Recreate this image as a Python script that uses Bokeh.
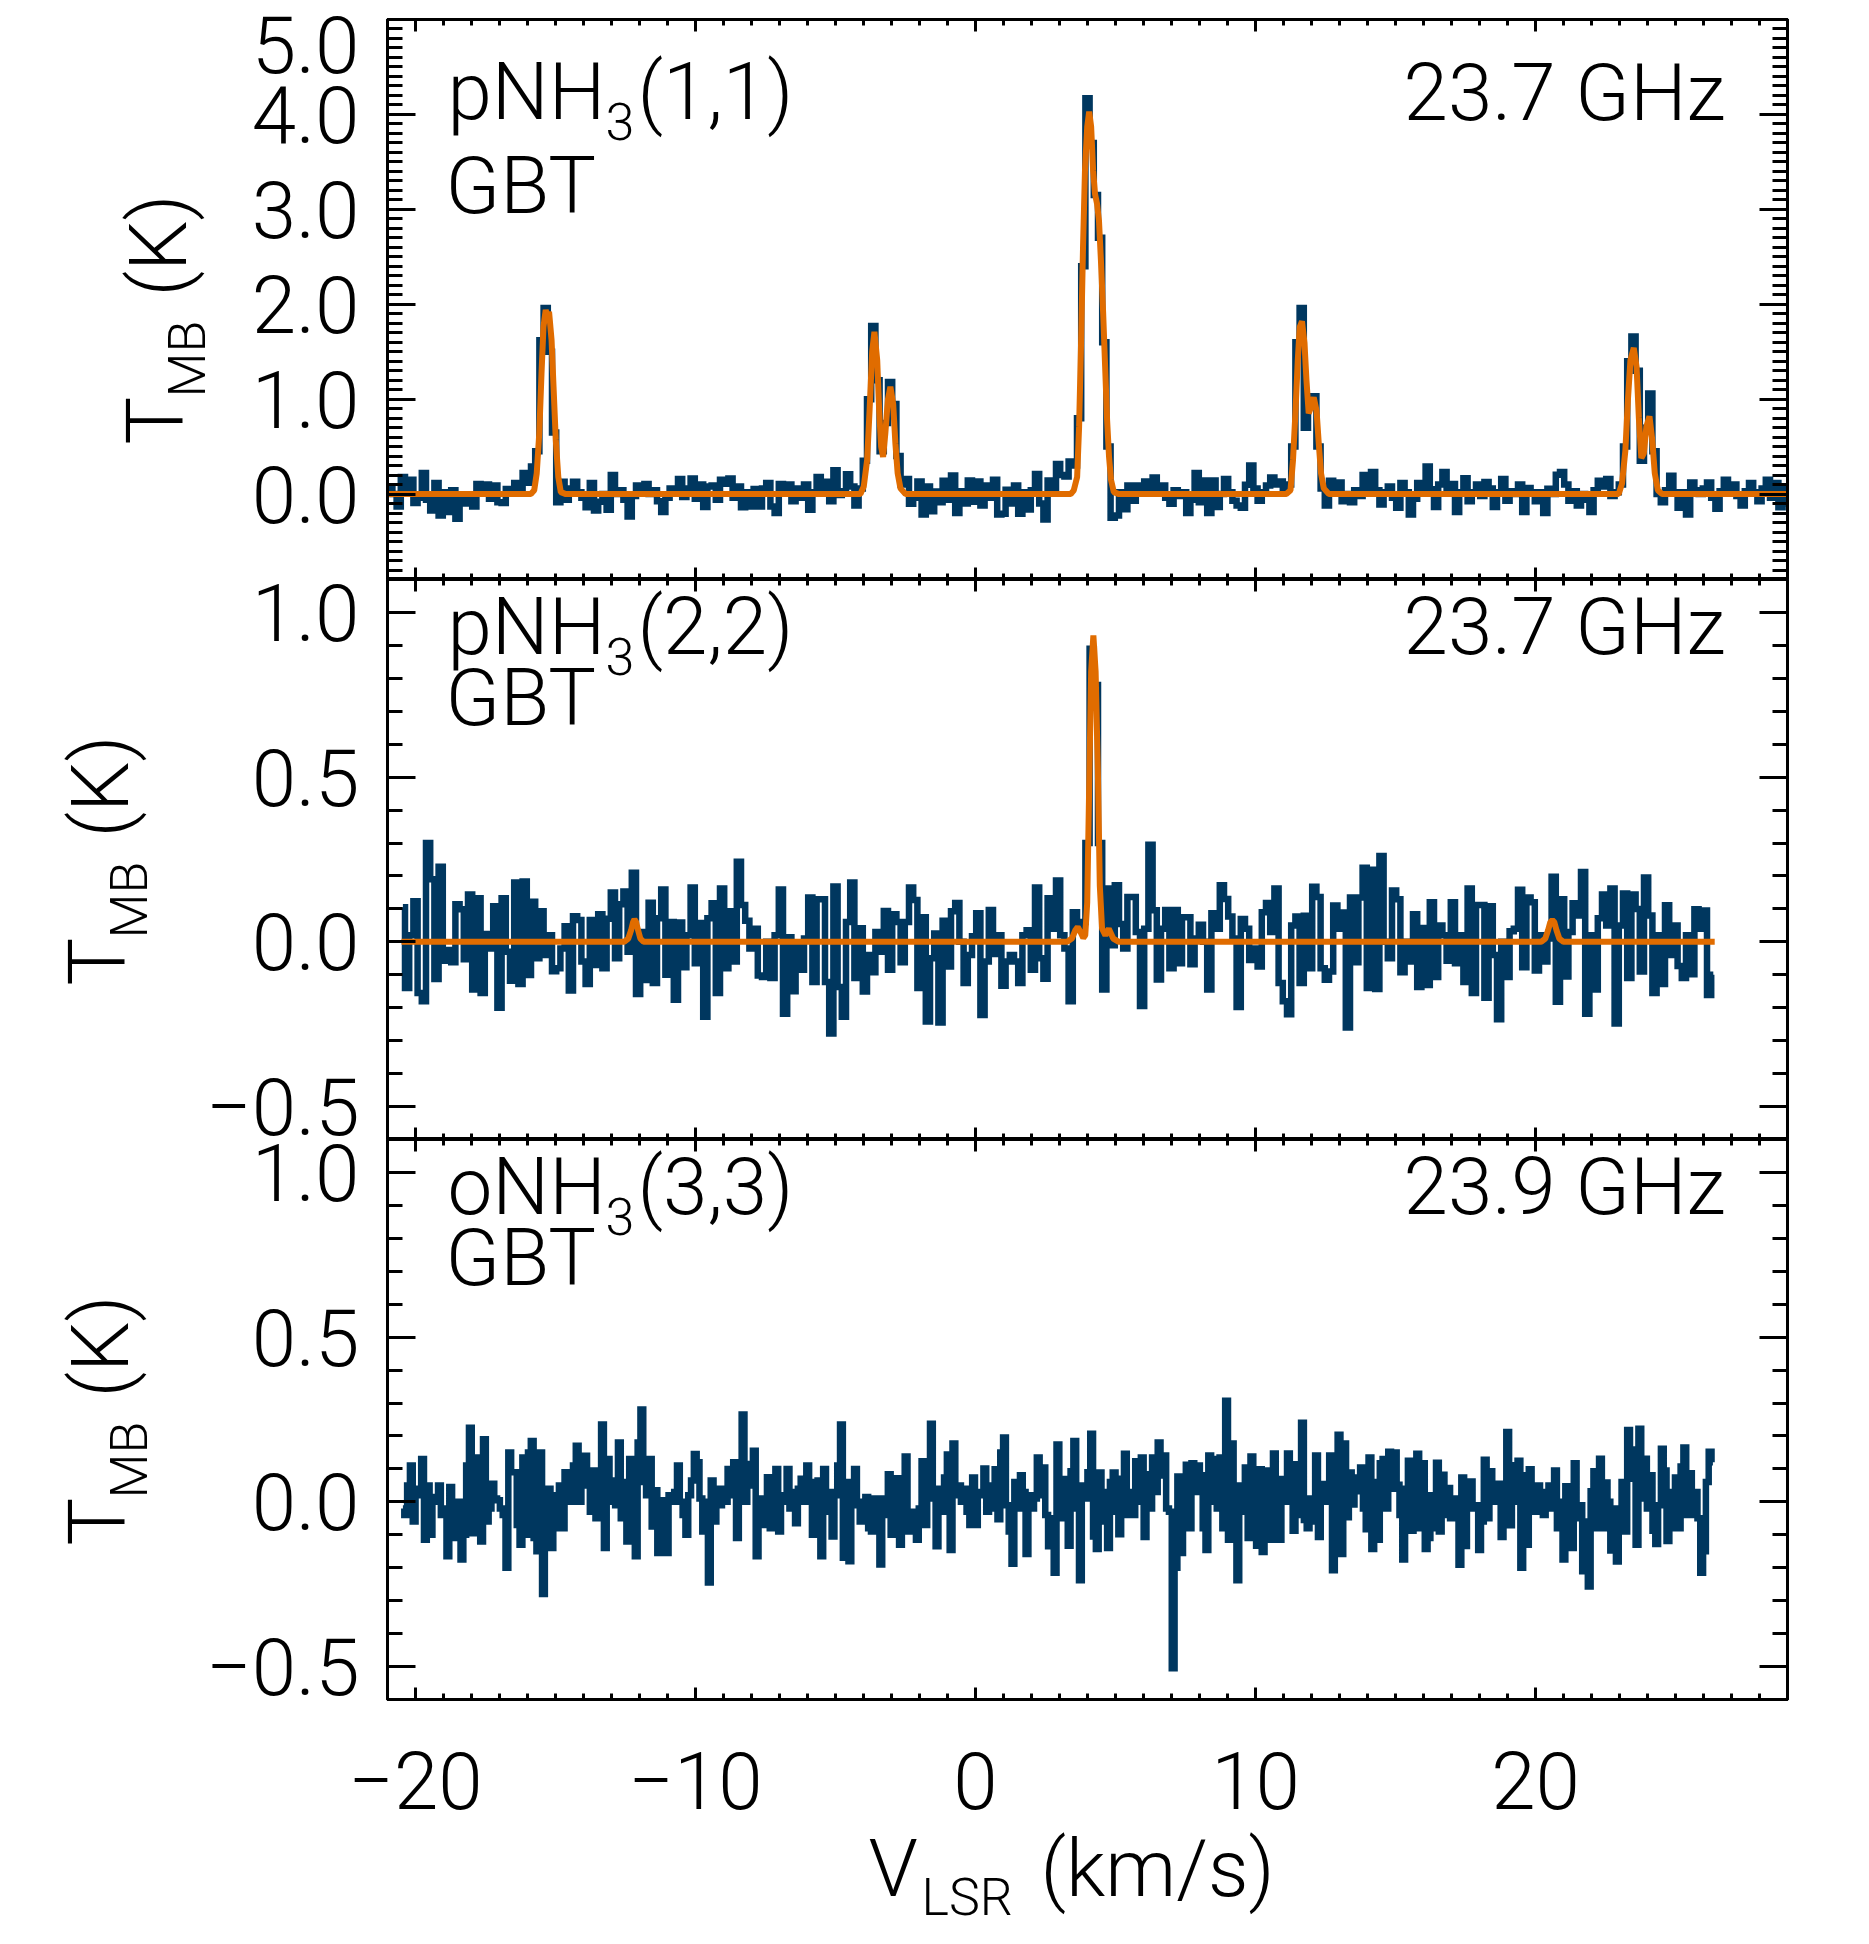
import numpy as np
from bokeh.plotting import figure
from bokeh.models import Range1d, LinearAxis, FixedTicker, Label, PrintfTickFormatter
from bokeh.layouts import column, row
from bokeh.embed import file_html
from bokeh.resources import INLINE

# ---------------- data ----------------
X_TICKS = [-20, -10, 0, 10, 20]
X_TICK_LABELS = {-20: "\u221220", -10: "\u221210"}
X_MINOR = list(range(-21, 30))

# panel 1: pNH3(1,1)  (channel values in mK)
V1_START, V1_STEP = -21.05, 0.15
T1_MK = [
    50, 50, 0, -130, 179, 40, 151, -95, -40, 221,
    -60, -172, 116, -225, 20, -190, 40, -260, -50, -100,
    -45, -130, 105, 60, 100, -50, 90, -85, -95, 53,
    20, 116, 30, 221, 120, 290, 450, 1620, 1960, 1500,
    650, -85, 130, -60, 60, 130, 20, -40, -140, 116,
    -172, -80, 0, -165, 200, 0, 40, -60, -235, -20,
    90, 40, 105, 0, 40, -75, -190, -40, 60, 20,
    158, -30, 60, 165, -50, 100, -137, 80, 90, -60,
    150, 110, 165, -40, 80, -140, 20, -130, 53, -130,
    60, 116, -130, -200, 105, 30, 100, -75, 60, -40,
    100, -165, 20, 180, 60, 130, -75, 250, -10, 30,
    210, 80, -120, 60,
    350, 1000, 1770, 1200, 450, 750, 1180, 950, 400, 100,
    158, -102, -40, 133, -214, 80, -182, 28, -85, 140,
    -60, 197, -200, 30, -100, 144, -80, 133, -120, 90,
    -40, 151, -214, -207, 45, -100, 90, -207, 20, -162,
    40, 211, -100, -267, 144, 60, 316, 200, 186, 344,
    300, 800, 2400, 4170, 3700, 3150, 2700, 1600, 500, -250,
    -225, 20, -160, 90, -70, 90, 20, 133, 50, 175,
    40, 90, -40, -102, 40, -20, 20, -200, -60, 221,
    -85, 144, -200, 144, -137, 0, 158, 20, -70, -120,
    -144, 98, 302, 60, -70, 20, 90, 175, 100, 133,
    60, 100, 500, 1600, 1960, 700, 950, 1030, 500, 60,
    -120, 140, 40,
    123, -75, 0, -85, 40, -20, 200, 60, 232, 40,
    -110, 20, 80, -40, -145, 116, 20, -214, -50, 116,
    40, 291, 50, -137, 100, 232, 50, 105, -190, 20,
    168, -75, 20, 100, -20, 126, 60, -137, 20, 158,
    -70, 30, 0, 100, -190, 63, 20, -75, 20, -200,
    56, 0, 204, 232, 100, -70, 30, -120, 0, -60,
    -190, 40, 140, 80, 158, -20, 20, 100, 500, 1400,
    1660, 1300, 350, 700, 1060, 450, 0, -85, 40, 193,
    20, -145, 20, -214, 123, 40, 0, 60, 123, -40,
    -155, 30, 150, 50, 100, -20, -120, 30, 116, 20,
    -75, 60, 150, -40, 116, -140, 60, -100,
]
FIT1_V = [-21.0, -15.88, -15.76, -15.67, -15.58, -15.50, -15.43, -15.35, -15.29, -15.23,
          -15.14, -15.07, -14.99, -14.90, -14.81, -14.63,
          -4.25, -4.11, -3.99, -3.87, -3.78, -3.69, -3.61, -3.51, -3.44, -3.37,
          -3.30, -3.22, -3.13, -3.04, -2.94, -2.86, -2.78, -2.68, -2.50,
          3.40, 3.51, 3.63, 3.70, 3.77, 3.84, 3.91, 3.99, 4.06, 4.13, 4.20, 4.27,
          4.34, 4.41, 4.48, 4.56, 4.63, 4.70, 4.77, 4.84, 4.94, 5.12,
          11.10, 11.25, 11.34, 11.43, 11.51, 11.58, 11.66, 11.75, 11.82, 11.90,
          11.99, 12.08, 12.18, 12.26, 12.34, 12.44, 12.62,
          22.85, 22.97, 23.09, 23.21, 23.30, 23.39, 23.51, 23.61, 23.69, 23.78,
          23.87, 23.96, 24.07, 24.17, 24.26, 24.37, 24.52, 29.0]
FIT1_T = [0, 0, 0.04, 0.22, 0.64, 1.27, 1.76, 1.94, 1.87, 1.92,
          1.62, 1.13, 0.57, 0.18, 0.02, 0,
          0, 0.0, 0.08, 0.36, 0.90, 1.50, 1.71, 1.41, 0.88, 0.50,
          0.39, 0.64, 0.99, 1.13, 0.95, 0.53, 0.22, 0.06, 0,
          0, 0.04, 0.18, 0.71, 1.59, 2.60, 3.41, 3.87, 4.03, 3.87, 3.41, 3.16,
          3.06, 2.88, 2.46, 1.90, 1.34, 0.78, 0.39, 0.15, 0.02, 0,
          0, 0.04, 0.36, 0.88, 1.41, 1.76, 1.82, 1.59, 1.20, 0.85,
          0.92, 1.02, 0.88, 0.53, 0.22, 0.06, 0,
          0, 0, 0.11, 0.46, 0.99, 1.41, 1.54, 1.34, 0.81, 0.38,
          0.43, 0.71, 0.82, 0.57, 0.22, 0.04, 0, 0]
Y1_TICKS = [0, 1, 2, 3, 4, 5]
Y1_LABEL_POS = [0, 1, 2, 3, 4, 4.74]          # top label sits below its tick
Y1_TICK_LABELS = {4.74: "5.0"}
Y1_MINOR = [round(-0.9 + 0.1 * k, 1) for k in range(60)]

# panel 2: pNH3(2,2)
V2_START, V2_STEP = -20.45, 0.15
T2_MK = [
    105, -140, 20, 123, -155, -180, 300, 190, -113, 228,
    -57, -25, -62, 114, 99, -53, 144, -145, 132, -155,
    24, -20, 108, -200, 132, -30, -118, 180, -128, 183,
    -101, 122, -50, 93, -40, 20, -89, -80, -20, 47,
    -148, 78, 66, -60, -128, 66, -70, 84, -80, 70,
    150, -50, 114, 153, -30, 210, -158, 30, -116, 119,
    -125, 72, 159, -100, 60, -176, 59, -77, 20, 165,
    -65, 57, -227, 72, 117, -155, 162, -80, 93, -60,
    243, 112, 64, -20, 40, -102, -107, 0, -110, 20,
    159, -218, 14, -150, -10, -85, 10, 135, -122, 129,
    129, -122, -278, 168, -137, -227, 60, 180, -110, 41,
    -151, -40,
    -92, 30, -30, 94, -85, 84, 60, -62, 60, 165,
    127, -140, 75, -242, -50, 25, -245, 64, -75, 93,
    118, 0, -125, -40, 17, 87, -222, -60, 97, -37,
    20, -133, -60, -40, -60, -125, 20, 35, -85, 165,
    -50, -112, 132, 40, 186, 20, -20, -180, 90, 40,
    60, 300, 890, 780, 300, -145, 162, -10, 172, 54,
    -20, 136, 136, 30, -195, 40, 295, 96, -114, 40,
    97, -80, 97, -65, 75, 75, -68, 10, 52, 0,
    -145, 87, 40, 172, 130, 77, 10, -198, 69, 40,
    -55, -20, -75, 90, 118, 30, 162, -125, -180, -220,
    50, 77, -125, 79, -80, 167, 136, -80, -115, -90,
    110, 40,
    89, -260, 135, -62, 135, 225, -140, 219, -143, 261,
    0, -50, 156, 129, -92, 0, -60, 84, -137, 42,
    -131, 120, -107, 50, 20, -57, 120, -65, 20, -122,
    162, -155, 112, 112, -170, 108, -40, -235, 0, -107,
    32, 40, 158, -77, 135, 120, -87, 20, -60, 10,
    198, -182, 129, -105, 30, 117, 80, 212, -218, 20,
    -145, 72, 144, 50, 162, -248, 50, 147, -110, 144,
    100, -90, 195, 80, -155, 20, -128, 111, -40, 50,
    -73, -110, 20, -98, 99, 40, 95, -161, -100,
]
FIT2_V = [-20.50, -12.55, -12.40, -12.30, -12.23, -12.18, -12.12, -12.05, -11.97, -11.85,
          3.27, 3.45, 3.57, 3.65, 3.75, 3.85, 3.92, 3.99, 4.06, 4.13,
          4.21, 4.29, 4.37, 4.44, 4.52, 4.64, 4.76, 4.92, 5.12,
          20.20, 20.35, 20.45, 20.53, 20.60, 20.67, 20.75, 20.85, 21.00, 26.40]
FIT2_T = [0, 0, 0.01, 0.035, 0.06, 0.068, 0.06, 0.035, 0.01, 0,
          0, 0.011, 0.036, 0.045, 0.03, 0.012, 0.02, 0.12, 0.47, 0.82,
          0.93, 0.82, 0.52, 0.17, 0.04, 0.02, 0.04, 0.01, 0,
          0, 0.01, 0.035, 0.06, 0.066, 0.06, 0.035, 0.01, 0, 0]

# panel 3: oNH3(3,3)
V3_START, V3_STEP = -20.45, 0.1004
T3_MK = [
    -20, -40, 50, 110, -60, 40, 20, 130, -115, 50,
    -100, 15, 0, 50, -40, -20, -165, 45, -70, -110,
    0, -175, -100, 110, 225, -95, 135, 30, -120, 190,
    -60, -20, 55, 10, 5, -20, -40, -200, 150, 90,
    90, -70, -130, 135, -100, 150, 185, -110, -150, 150,
    -280, -40, 40, -140, 20, -80, 50, -80, 90, 30,
    0, 110, 170, 0, 100, 140, 50, -30, 95, -50,
    30, 235, -140, 130, 0, 65, -10, 180, -50, 60,
    -120, 130, -60, -165, 180, 280, 60, 20, 130, -75,
    35, -155, 5, -80, -155, 20, 0, 30, 110, 0,
    -40, -100, 20, 65, 145, 120, 10, -90, 0, -245,
    65, -60, 40, -10, 40, 0, 100, 20, 120, -110,
    60, 265, 0, 115, 50, 155, -165, 10, -70, 0,
    75, -80, 20, 100, -90, 0, 20, 100, -20, 30,
    -65, 40, 70, 0, 110, 20, -100, 60, 65, -165,
    100, -30, 30, -105, 20, 110, 235, -170, 60, -180,
    20, 100, -10, -60, 0, 15, -80,
    -90, 10, -40, -190, 10, -40, 84, -100, 10, 72,
    -130, 40, 138, -90, -30, -45, -115, -20, 123, -70,
    110, 237, 10, -135, 40, -30, 74, 144, -146, 177,
    20, 50, 0, 40, -30, -70, 74, -70, 20, 30,
    101, -30, 50, -20, 99, -53, 150, 195, -10, -90,
    -188, 60, -20, 81, 30, -158, 20, -20, 10, 135,
    20, 104, -40, -135, -50, -215, 174, -50, 69, 30,
    -133, 93, 185, -20, -238, 50, 10, 90, 207, -105,
    -143, 89, 30, -60, -140, 60, 89, -30, -98, 70,
    146, -40, 30, -40, 123, 0, 135, -107, 84, -20,
    135, 30, 180, 80, 141, -20, -30, -505, -200, 77,
    -155, 40, 113, -80, 117, 30, 110, 81, -80, -146,
    141, 0, 130, -20, 135, -80, 307, -115, 177, 40,
    -238, 50, -30, 104, -110, 138, 10, -133, 99, -152,
    95, 20, -115, 147, 40, -115, 69, 0, 147, 100,
    -88, 114, -40, 240, -55, -80, 10, -60, 141, -107,
    54, 0, 30, 141, -208, 100, 204,
    -158, 177, -47, 89, -8, 74, 32, 104, -20, -83,
    135, -143, 60, -115, 117, 130, -20, 152, 40, 150,
    52, -40, -175, 40, 125, -88, 60, 146, -80, 117,
    -143, -110, 20, -80, 119, -90, 82, -40, 42, -50,
    10, -30, -191, 74, -134, -20, 62, -20, -10, -146,
    -60, 128, -50, 93, 0, 40, 55, -107, 40, 212,
    -71, 111, 0, 125, -200, 81, -130, 99, 30, -30,
    50, 20, -40, 30, 50, -20, 95, -80, 0, -175,
    47, -60, -140, 117, -50, -10, -211, -60, -257, 32,
    93, -80, 131, -80, 59, 0, -148, -20, -181, -70,
    60, -90, 218, 70, 159, -130, 222, 10, 131, -20,
    81, -88, -128, -10, 161, 95, -119, 30, -80, 74,
    -80, 107, 165, -40, 87, -40, 30, -50, -215, -150,
    60, 152, 120,
]
Y23_TICKS = [-0.5, 0.0, 0.5, 1.0]
Y23_TICK_LABELS = {-0.5: "\u22120.5"}
Y23_MINOR = [round(-0.6 + 0.1 * k, 1) for k in range(18)]

# ---------------- style / layout ----------------
NAVY = "#00375f"
ORANGE = "#e06c00"
FONT = "Roboto Light"
FS = "80px"
FS_SUB = "52px"
X_MIN, X_MAX = -21.0, 29.0
FRAME_W, FRAME_H = 1400, 560
FRAME_LEFT = 387
RIGHT_BORDER = 60
TOTAL_W = FRAME_LEFT + FRAME_W + RIGHT_BORDER
TOPS = [19, 579, 1139]
P3_BOTTOM = 120
PAGE_H = 1940
STRIP_W = [215, 175, 175]


def xd(px):
    return X_MIN + (px - FRAME_LEFT) * (X_MAX - X_MIN) / FRAME_W


def yd(py, top, ymin, ymax):
    return ymax - (py - top) * (ymax - ymin) / FRAME_H


def style_axis(ax, tin, tmin, ticks=None):
    ax.major_tick_in = tin
    ax.major_tick_out = 0
    ax.minor_tick_in = tmin
    ax.minor_tick_out = 0
    ax.major_tick_line_width = 3
    ax.minor_tick_line_width = 3
    ax.major_tick_line_color = "black"
    ax.minor_tick_line_color = "black"
    ax.axis_line_color = "black"
    ax.axis_line_width = 3
    ax.major_label_text_font = FONT
    ax.major_label_text_color = "black"
    ax.major_label_text_font_size = FS
    if ticks is not None:          # unlabeled axis
        ax.major_label_overrides = {t: "" for t in ticks}
        ax.major_label_text_font_size = "0px"
        ax.major_label_standoff = 0


def make_panel(ymin, ymax, yticks, yminor, ylabpos, yover, btop, bbottom, bleft, xlabels):
    p = figure(frame_width=FRAME_W, frame_height=FRAME_H,
               x_range=Range1d(X_MIN, X_MAX), y_range=Range1d(ymin, ymax),
               x_axis_type=None, y_axis_type=None,
               output_backend="svg", toolbar_location=None,
               min_border_left=bleft, min_border_right=RIGHT_BORDER,
               min_border_top=btop, min_border_bottom=bbottom,
               outline_line_color="black", outline_line_width=3,
               background_fill_color="white", border_fill_color="white")
    xt = FixedTicker(ticks=X_TICKS, minor_ticks=X_MINOR)
    yt = FixedTicker(ticks=yticks, minor_ticks=yminor)
    ax = LinearAxis(ticker=xt)
    if xlabels:
        style_axis(ax, 12, 6)
        ax.major_label_overrides = X_TICK_LABELS
        ax.major_label_standoff = 52
    else:
        style_axis(ax, 12, 6, X_TICKS)
    p.add_layout(ax, "below")
    ax = LinearAxis(ticker=xt)
    style_axis(ax, 12, 6, X_TICKS)
    p.add_layout(ax, "above")
    ax = LinearAxis(ticker=yt)
    style_axis(ax, 28, 15, yticks)
    p.add_layout(ax, "left")
    ax = LinearAxis(ticker=FixedTicker(ticks=ylabpos, minor_ticks=[]),
                    formatter=PrintfTickFormatter(format="%.1f"))
    style_axis(ax, 0, 0)
    ax.major_tick_line_color = None
    ax.minor_tick_line_color = None
    ax.axis_line_color = None
    ax.major_label_overrides = yover
    ax.major_label_standoff = 28
    p.add_layout(ax, "left")
    ax = LinearAxis(ticker=yt)
    style_axis(ax, 28, 15, yticks)
    p.add_layout(ax, "right")
    return p


def strip(x0, x1, y0, y1):
    return figure(frame_width=int(x1 - x0), frame_height=int(y1 - y0),
                  x_range=Range1d(x0, x1), y_range=Range1d(y1, y0),
                  x_axis_type=None, y_axis_type=None,
                  output_backend="svg", toolbar_location=None,
                  min_border=0, outline_line_color=None,
                  background_fill_color="white", border_fill_color="white")


def add_text(p, x, y, text, size=FS, align="left", angle=0.0):
    p.add_layout(Label(x=x, y=y, text=text, text_font=FONT, text_font_size=size,
                       text_color="black", text_align=align,
                       text_baseline="alphabetic", angle=angle))


def add_ylabel(s, top, tx, c_off=0):
    c = top + FRAME_H / 2 + c_off
    add_text(s, tx, c + 126, "T", angle=np.pi / 2)
    add_text(s, tx + 32, c + 79, "MB", size=FS_SUB, angle=np.pi / 2)
    add_text(s, tx + 3, c - 22, "(K)", angle=np.pi / 2)


def add_species(p, top, ymin, ymax, main, qn, freq, off, goff, foff):
    add_text(p, xd(447), yd(top + off, top, ymin, ymax), main)
    add_text(p, xd(605), yd(top + off + 30, top, ymin, ymax), "3", size=FS_SUB)
    add_text(p, xd(637), yd(top + off, top, ymin, ymax), qn)
    add_text(p, xd(445), yd(top + goff, top, ymin, ymax), "GBT")
    add_text(p, xd(1725), yd(top + foff, top, ymin, ymax), freq, align="right")


def chan(start, step, n):
    return start + step * np.arange(n)


# ---- panel 1
y1min, y1max = -0.9, 5.0
p1 = make_panel(y1min, y1max, Y1_TICKS, Y1_MINOR, Y1_LABEL_POS, Y1_TICK_LABELS,
                TOPS[0], 0, FRAME_LEFT - STRIP_W[0], False)
p1.step(chan(V1_START, V1_STEP, len(T1_MK)), np.array(T1_MK) / 1000.0, mode="center",
        line_color=NAVY, line_width=6.5, line_join="miter")
p1.line(FIT1_V, FIT1_T, line_color=ORANGE, line_width=6)
add_species(p1, TOPS[0], y1min, y1max, "pNH", "(1,1)", "23.7 GHz", 72, 166, 73)
s1 = strip(0, STRIP_W[0], 0, TOPS[1])
add_ylabel(s1, TOPS[0], 155)

# ---- panel 2
y2min, y2max = -0.6, 1.1
p2 = make_panel(y2min, y2max, Y23_TICKS, Y23_MINOR, Y23_TICKS, Y23_TICK_LABELS,
                0, 0, FRAME_LEFT - STRIP_W[1], False)
p2.step(chan(V2_START, V2_STEP, len(T2_MK)), np.array(T2_MK) / 1000.0, mode="center",
        line_color=NAVY, line_width=6.5, line_join="miter")
p2.line(FIT2_V, FIT2_T, line_color=ORANGE, line_width=6)
add_species(p2, TOPS[1], y2min, y2max, "pNH", "(2,2)", "23.7 GHz", 47, 118, 47)
s2 = strip(0, STRIP_W[1], TOPS[1], TOPS[2])
add_ylabel(s2, TOPS[1], 97)

# ---- panel 3
p3 = make_panel(y2min, y2max, Y23_TICKS, Y23_MINOR, Y23_TICKS, Y23_TICK_LABELS,
                0, P3_BOTTOM, FRAME_LEFT - STRIP_W[2], True)
p3.step(chan(V3_START, V3_STEP, len(T3_MK)), np.array(T3_MK) / 1000.0, mode="center",
        line_color=NAVY, line_width=6.5, line_join="miter")
add_species(p3, TOPS[2], y2min, y2max, "oNH", "(3,3)", "23.9 GHz", 47, 118, 47)
s3 = strip(0, STRIP_W[2], TOPS[2], TOPS[2] + FRAME_H + P3_BOTTOM)
add_ylabel(s3, TOPS[2], 97)

# ---- x axis title strip
y_top_b = TOPS[2] + FRAME_H + P3_BOTTOM
sb = strip(0, TOTAL_W, y_top_b, PAGE_H)
add_text(sb, 868, 1868, "V")
add_text(sb, 921, 1897, "LSR", size=FS_SUB)
add_text(sb, 1040, 1868, "(km/s)")

layout = column(row(s1, p1), row(s2, p2), row(s3, p3), sb)
open("out.html", "w").write(file_html(layout, INLINE))
